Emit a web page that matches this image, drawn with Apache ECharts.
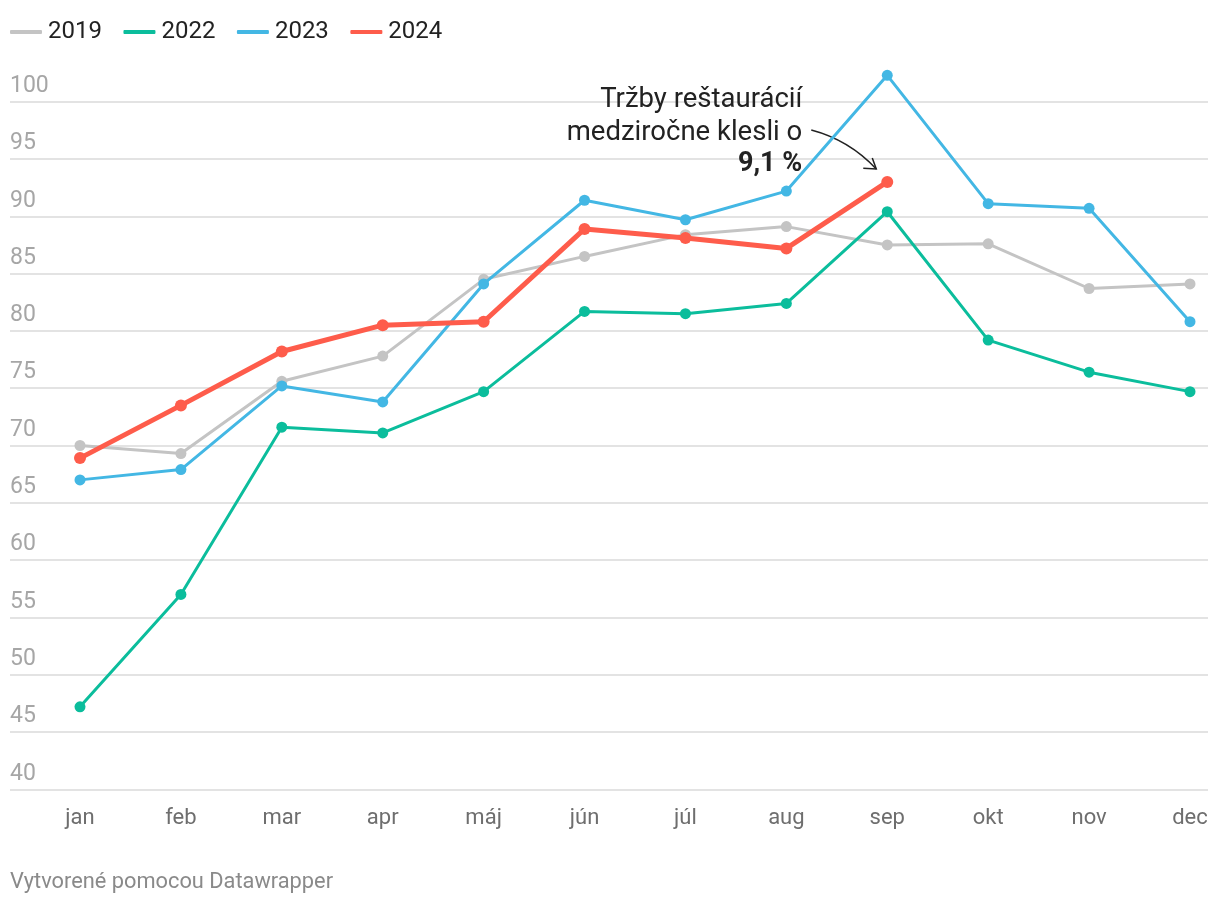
<!DOCTYPE html>
<html>
<head>
<meta charset="utf-8">
<script src="https://cdn.jsdelivr.net/npm/echarts@6/dist/echarts.min.js"></script>
<style>
  html, body { margin: 0; padding: 0; background: #fff; }
  #chart { width: 1220px; height: 906px; }
</style>
</head>
<body>
<div id="chart"></div>
<script>
const months = ['jan','feb','mar','apr','máj','jún','júl','aug','sep','okt','nov','dec'];
const yTicks = [40, 45, 50, 55, 60, 65, 70, 75, 80, 85, 90, 95, 100];
const s2019 = [70.0, 69.3, 75.6, 77.8, 84.5, 86.5, 88.4, 89.1, 87.5, 87.6, 83.7, 84.1];
const s2022 = [47.2, 57.0, 71.6, 71.1, 74.7, 81.7, 81.5, 82.4, 90.4, 79.2, 76.4, 74.7];
const s2023 = [67.0, 67.9, 75.2, 73.8, 84.1, 91.4, 89.7, 92.2, 102.3, 91.1, 90.7, 80.8];
const s2024 = [68.9, 73.5, 78.2, 80.5, 80.8, 88.9, 88.1, 87.2, 93.0];
const seriesNames = ['2019', '2022', '2023', '2024'];
const colors = ['#c4c4c4', '#0bbd9c', '#43b7e4', '#fe5c4b'];
const annotationLines = ['Tržby reštaurácií', 'medziročne klesli o'];
const annotationBold = '9,1 %';
const footer = 'Vytvorené pomocou Datawrapper';

const FONT = 'Roboto, "Noto Sans", sans-serif';
const chart = echarts.init(document.getElementById('chart'), null, { renderer: 'canvas' });

const gridTop = 101.7, gridBottom = 906 - 789.3;

function lineSeries(i, data, width, sym) {
  return {
    name: seriesNames[i], type: 'line', data: data,
    xAxisIndex: 1, yAxisIndex: 1,
    color: colors[i],
    lineStyle: { width: width, color: colors[i] },
    itemStyle: { color: colors[i] },
    symbol: 'circle', symbolSize: sym, showSymbol: true,
    clip: false, animation: false, z: 2 + i
  };
}

chart.setOption({
  animation: false,
  textStyle: { fontFamily: FONT },
  legend: {
    left: 5, top: 15,
    itemWidth: 32, itemHeight: 4, itemGap: 21.5,
    icon: 'roundRect',
    textStyle: { fontFamily: FONT, fontSize: 24, color: '#222', padding: [0, 0, 0, 1] },
    data: seriesNames
  },
  grid: [
    { left: 10, right: 12, top: gridTop, bottom: gridBottom, containLabel: false },
    { left: 80, right: 30, top: gridTop, bottom: gridBottom, containLabel: false }
  ],
  xAxis: [
    { gridIndex: 0, type: 'category', data: months, show: false },
    {
      gridIndex: 1, type: 'category', data: months, boundaryGap: false,
      axisLine: { show: false }, axisTick: { show: false },
      axisLabel: { color: '#6e6e6e', fontSize: 22, fontFamily: FONT, margin: 18 },
      splitLine: { show: false }
    }
  ],
  yAxis: [
    {
      gridIndex: 0, type: 'value', min: yTicks[0], max: yTicks[yTicks.length - 1], interval: 5,
      axisLine: { show: false }, axisTick: { show: false },
      axisLabel: {
        inside: true, margin: 0, color: '#a6a6a6', fontSize: 23, fontFamily: FONT,
        verticalAlign: 'bottom', align: 'left', padding: [0, 0, 4, 0]
      },
      splitLine: { lineStyle: { color: '#e3e3e3', width: 2 } }
    },
    {
      gridIndex: 1, type: 'value', min: yTicks[0], max: yTicks[yTicks.length - 1], interval: 5,
      show: false, splitLine: { show: false }
    }
  ],
  series: [
    lineSeries(0, s2019, 3, 11),
    lineSeries(1, s2022, 3, 11),
    lineSeries(2, s2023, 3, 11),
    lineSeries(3, s2024, 5, 12)
  ]
});

// annotation anchored to the September 2024 point
const p = chart.convertToPixel({ xAxisIndex: 1, yAxisIndex: 1 }, ['sep', s2024[8]]);
const tipX = p[0] - 11, tipY = p[1] - 13;
const textRight = p[0] - 85;
chart.setOption({
  graphic: [
    {
      type: 'text', x: textRight, y: tipY - 69,
      style: { text: annotationLines[0], font: '400 27.5px ' + FONT, fill: '#222', align: 'right', verticalAlign: 'middle' }
    },
    {
      type: 'text', x: textRight, y: tipY - 36,
      style: { text: annotationLines[1], font: '400 27.5px ' + FONT, fill: '#222', align: 'right', verticalAlign: 'middle' }
    },
    {
      type: 'text', x: textRight, y: tipY - 5,
      style: { text: annotationBold, font: '700 27px ' + FONT, fill: '#222', align: 'right', verticalAlign: 'middle' }
    },
    {
      type: 'bezierCurve',
      shape: { x1: tipX - 65, y1: tipY - 39, cpx1: tipX - 27, cpy1: tipY - 29, x2: tipX, y2: tipY },
      style: { stroke: '#222', lineWidth: 1.5, fill: null }
    },
    {
      type: 'polyline',
      shape: { points: [[tipX - 13, tipY - 0.7], [tipX, tipY], [tipX - 4, tipY - 11]] },
      style: { stroke: '#222', lineWidth: 1.5, fill: null }
    },
    {
      type: 'text', x: 10, y: 883,
      style: { text: footer, font: '400 21.8px ' + FONT, fill: '#8a8a8a', align: 'left', verticalAlign: 'middle' }
    }
  ]
});
</script>
</body>
</html>
